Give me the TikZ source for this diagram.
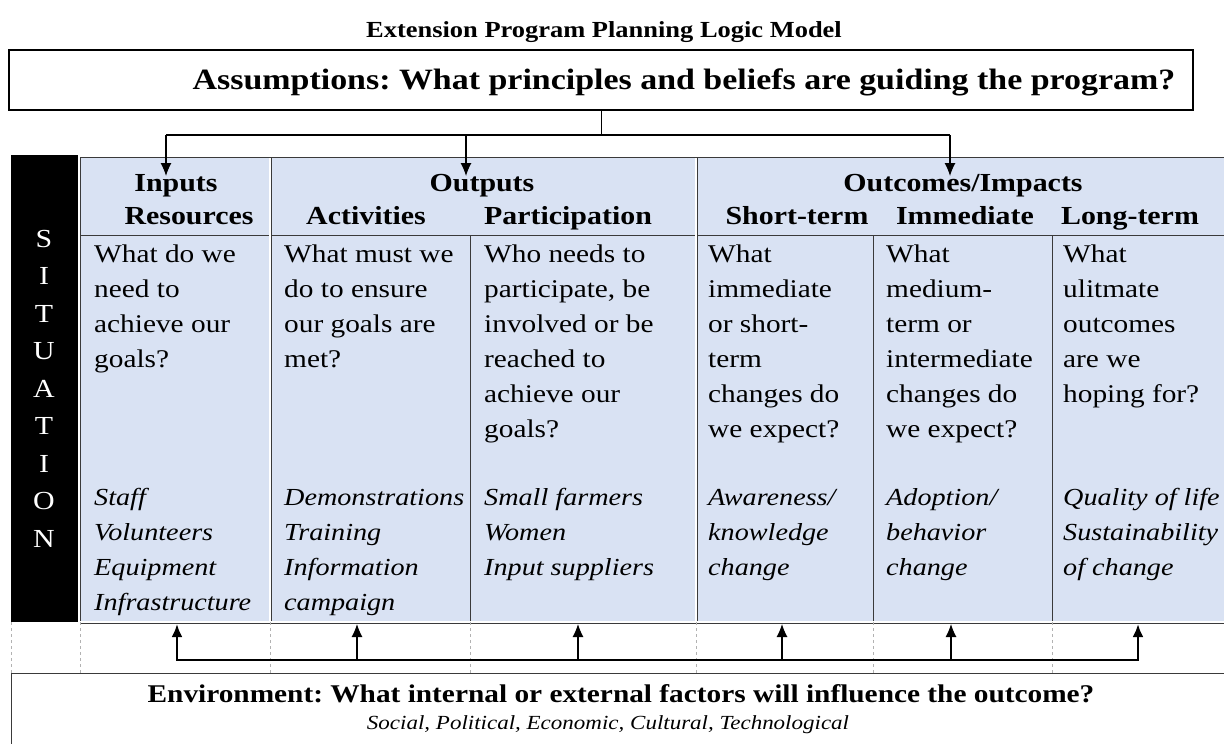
\documentclass[tikz,border=0pt]{standalone}
\usepackage{fontspec}
\setmainfont{Liberation Serif}[FakeStretch=1.15]
\usetikzlibrary{arrows.meta,positioning}
\definecolor{cellblue}{HTML}{D9E2F3}
\definecolor{rule}{HTML}{3A3A3A}
\frenchspacing

\begin{document}
\begin{tikzpicture}[x=1pt,y=-1pt,>={Latex[length=13pt,width=11pt]},
    head/.style={anchor=base,inner sep=0pt,font=\fontsize{26}{30}\selectfont\bfseries},
    ask/.style={anchor=north west,inner sep=0pt,align=left,font=\fontsize{25.5}{35}\selectfont},
    hint/.style={ask,font=\fontsize{24.5}{35}\selectfont\itshape},
    cell rule/.style={draw=rule,line width=0.9pt},
    twin rule/.style={draw=rule,double=white,line width=0.7pt,double distance=1.6pt},
    grid rule/.style={draw=gray!60,dashed,line width=0.6pt},
    bus/.style={line width=2.6pt},
    feed/.style={->,line width=1.1pt}]
  \useasboundingbox (0,0) rectangle (1224,744);

  % title and assumptions
  \node[anchor=base,font=\fontsize{23}{28}\selectfont\bfseries] (title) at (604,37)
    {Extension Program Planning Logic Model};
  \node[draw,line width=1.8pt,minimum width=1184pt,minimum height=60pt,inner sep=0pt] (assume) at (601,80) {};
  \node[anchor=base,inner sep=0pt,font=\fontsize{29.5}{34}\selectfont\bfseries] (assume text) at (684,89)
    {Assumptions: What principles and beliefs are guiding the program?};

  % table
  \fill[cellblue] (80,156) rectangle (1226,622);
  \fill[black] (11,155) rectangle (78,622);
  \draw[cell rule] (80,235) -- (1226,235);
  \draw[cell rule] (80,156) -- (80,622);
  \draw[cell rule] (470,235) -- (470,622);
  \draw[cell rule] (873,235) -- (873,622);
  \draw[cell rule] (1052,235) -- (1052,622);
  \draw[twin rule] (270,156) -- (270,622);
  \draw[twin rule] (696,156) -- (696,622);
  \draw[twin rule] (80,156) -- (1226,156);
  \draw[twin rule] (80,622) -- (1226,622);

  % situation
  \node[anchor=north,inner sep=0pt,align=center,text=white,font=\fontsize{26}{37.5}\selectfont] (situ) at (44,221)
    {\strut S\\I\\T\\U\\A\\T\\I\\O\\N};

  % headers
  \node[head] (inputs) at (176,191) {Inputs};
  \node[head] (outputs) at (482,191) {Outputs};
  \node[head] (outcomes) at (963,191) {Outcomes/Impacts};
  \node[head] (resources) at (189,224) {Resources};
  \node[head] (activities) at (366,224) {Activities};
  \node[head] (participation) at (568,224) {Participation};
  \node[head] (short) at (797,224) {Short-term};
  \node[head] (medium) at (965,224) {Immediate};
  \node[head] (long) at (1130,224) {Long-term};

  % questions
  \node[ask] (q in) at (94,238) {\strut What do we\\need to\\achieve our\\goals?};
  \node[ask] (q act) at (284,238) {\strut What must we\\do to ensure\\our goals are\\met?};
  \node[ask] (q part) at (484,238) {\strut Who needs to\\participate, be\\involved or be\\reached to\\achieve our\\goals?};
  \node[ask] (q short) at (708,238) {\strut What\\immediate\\or short-\\term\\changes do\\we expect?};
  \node[ask] (q medium) at (886,238) {\strut What\\medium-\\term or\\intermediate\\changes do\\we expect?};
  \node[ask] (q long) at (1063,238) {\strut What\\ulitmate\\outcomes\\are we\\hoping for?};

  % examples
  \node[hint] (e in) at (94,481) {\strut Staff\\Volunteers\\Equipment\\Infrastructure};
  \node[hint] (e act) at (284,481) {\strut Demonstrations\\Training\\Information\\campaign};
  \node[hint] (e part) at (484,481) {\strut Small farmers\\Women\\Input suppliers};
  \node[hint] (e short) at (708,481) {\strut Awareness/\\knowledge\\change};
  \node[hint] (e medium) at (886,481) {\strut Adoption/\\behavior\\change};
  \node[hint] (e long) at (1063,481) {\strut Quality of life\\Sustainability\\of change};

  % spacer row and environment
  \draw[grid rule] (11,622) -- (11,673);
  \draw[grid rule] (80,622) -- (80,673);
  \draw[grid rule] (270,622) -- (270,673);
  \draw[grid rule] (470,622) -- (470,673);
  \draw[grid rule] (696,622) -- (696,673);
  \draw[grid rule] (873,622) -- (873,673);
  \draw[grid rule] (1052,622) -- (1052,673);
  \node[draw=rule,line width=0.8pt,anchor=north west,minimum width=1215pt,minimum height=76pt,inner sep=0pt] (env box) at (11,673) {};
  \node[anchor=base,inner sep=0pt,font=\fontsize{25.5}{30}\selectfont\bfseries] (env) at (621,702)
    {Environment: What internal or external factors will influence the outcome?};
  \node[anchor=base,inner sep=0pt,font=\fontsize{20}{26}\selectfont\itshape] (factors) at (608,729)
    {Social, Political, Economic, Cultural, Technological};

  % connectors from assumptions
  \coordinate (split) at (601,135);
  \coordinate (top in) at (166,135);
  \coordinate (top out) at (466,135);
  \coordinate (top outcome) at (950,135);
  \coordinate (tip in) at (166,176);
  \coordinate (tip out) at (466,176);
  \coordinate (tip outcome) at (950,176);
  \draw[line width=1pt] (assume.south) -- (split);
  \draw[line width=2pt] (top in) -- (top outcome);
  \path[feed]
    (top in) edge (tip in)
    (top out) edge (tip out)
    (top outcome) edge (tip outcome);

  % connectors from environment
  \coordinate (low in) at (177,660);
  \coordinate (low act) at (357,660);
  \coordinate (low part) at (578,660);
  \coordinate (low short) at (782,660);
  \coordinate (low medium) at (951,660);
  \coordinate (low long) at (1138,660);
  \coordinate (up in) at (177,624);
  \coordinate (up act) at (357,624);
  \coordinate (up part) at (578,624);
  \coordinate (up short) at (782,624);
  \coordinate (up medium) at (951,624);
  \coordinate (up long) at (1138,624);
  \draw[bus,<->] (up in) -- (low in) -- (low long) -- (up long);
  \path[feed]
    (low act) edge (up act)
    (low part) edge (up part)
    (low short) edge (up short)
    (low medium) edge (up medium);
\end{tikzpicture}
\end{document}
